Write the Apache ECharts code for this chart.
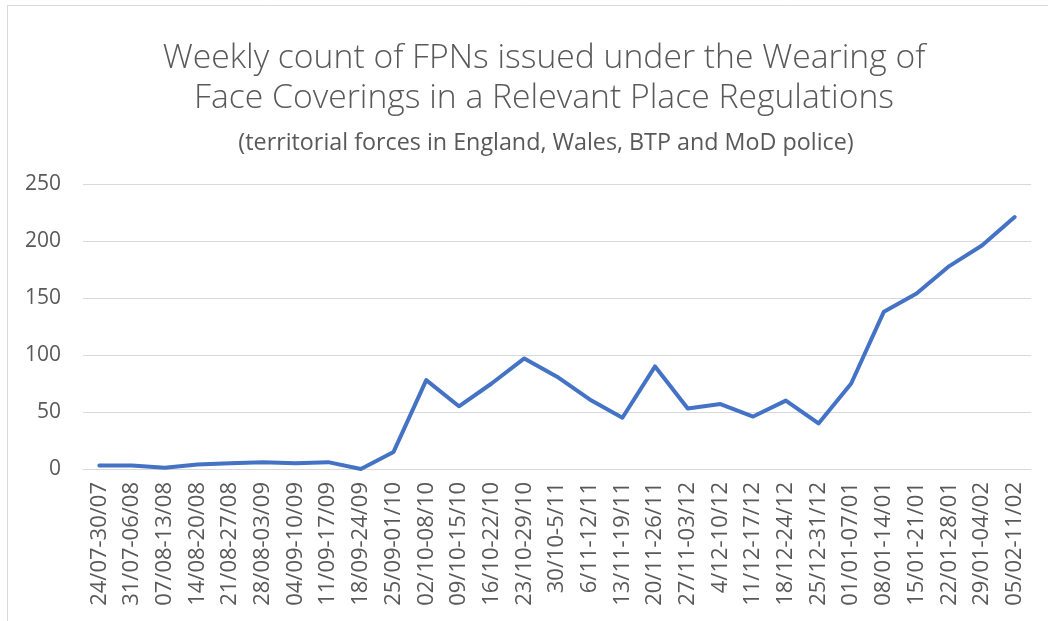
<!DOCTYPE html>
<html>
<head>
<meta charset="utf-8">
<script src="https://cdn.jsdelivr.net/npm/echarts@6/dist/echarts.min.js"></script>
<style>
html,body{margin:0;padding:0;background:#fff;}
#chart{width:1048px;height:621px;}
</style>
</head>
<body>
<div id="chart"></div>
<script>
const titleLines = ["Weekly count of FPNs issued under the Wearing of", "Face Coverings in a Relevant Place Regulations"];
const subtitle = "(territorial forces in England, Wales, BTP and MoD police)";
const categories = ["24/07-30/07","31/07-06/08","07/08-13/08","14/08-20/08","21/08-27/08","28/08-03/09","04/09-10/09","11/09-17/09","18/09-24/09","25/09-01/10","02/10-08/10","09/10-15/10","16/10-22/10","23/10-29/10","30/10-5/11","6/11-12/11","13/11-19/11","20/11-26/11","27/11-03/12","4/12-10/12","11/12-17/12","18/12-24/12","25/12-31/12","01/01-07/01","08/01-14/01","15/01-21/01","22/01-28/01","29/01-04/02","05/02-11/02"];
const fpnCounts = [3,3,1,4,5,6,5,6,0,15,78,55,75,97,81,61,45,90,53,57,46,60,40,75,138,154,178,196,221];
const yTicks = {min:0, max:250, interval:50};

const chart = echarts.init(document.getElementById('chart'));
const txt = '#595959';
chart.setOption({
  backgroundColor:'#fff',
  animation:false,
  title:[{
    text: titleLines.join('\n'),
    left:539, textAlign:'center', top:33,
    textStyle:{fontFamily:'Open Sans', fontWeight:300, fontSize:33.7, lineHeight:40, color:txt}
  },{
    text: subtitle,
    left:541, textAlign:'center', top:127,
    textStyle:{fontFamily:'Open Sans', fontWeight:400, fontSize:23.3, color:txt}
  }],
  graphic:[
    {type:'line', shape:{x1:7,y1:5.5,x2:1048,y2:5.5}, style:{stroke:'#d9d9d9', lineWidth:1}},
    {type:'line', shape:{x1:7.5,y1:5,x2:7.5,y2:621}, style:{stroke:'#d9d9d9', lineWidth:1}}
  ],
  grid:{left:83, right:17, top:184, bottom:152},
  xAxis:{
    type:'category', data:categories, boundaryGap:true,
    axisLine:{lineStyle:{color:'#d9d9d9', width:1}},
    axisTick:{show:false},
    axisLabel:{rotate:90, interval:0, fontFamily:'Open Sans', fontSize:22, color:txt, margin:13}
  },
  yAxis:{
    type:'value', min:yTicks.min, max:yTicks.max, interval:yTicks.interval,
    axisLine:{show:false}, axisTick:{show:false},
    splitLine:{lineStyle:{color:'#d9d9d9', width:1}},
    axisLabel:{fontFamily:'Open Sans', fontSize:21, color:txt, margin:22}
  },
  series:[{
    type:'line', data:fpnCounts, symbol:'none',
    lineStyle:{color:'#4472C4', width:4, cap:'round', join:'round'},
    itemStyle:{color:'#4472C4'}
  }]
});
</script>
</body>
</html>
